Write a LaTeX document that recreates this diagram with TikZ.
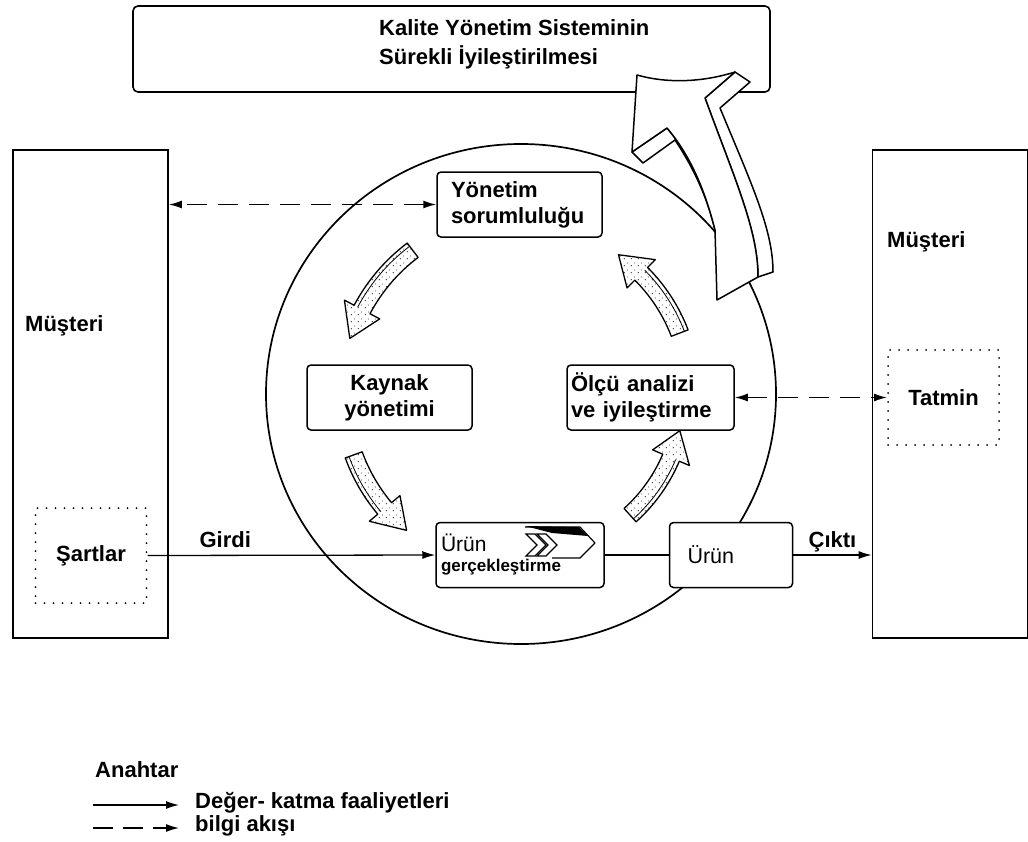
\documentclass[tikz,border=0pt]{standalone}
\usepackage{fontspec}
\setmainfont{Liberation Sans}
\usetikzlibrary{arrows.meta,positioning,calc,patterns}

\pgfdeclarepatternformonly{sparsedots}{\pgfqpoint{0pt}{0pt}}{\pgfqpoint{7pt}{7pt}}{\pgfqpoint{7pt}{7pt}}{%
  \pgfpathcircle{\pgfqpoint{1.5pt}{1.5pt}}{0.8pt}%
  \pgfpathcircle{\pgfqpoint{5pt}{4.5pt}}{0.6pt}%
  \pgfusepath{fill}}

% shaded block arrow on an arc round (cyc): radius, tail angle, tip angle
\newcommand{\cyclearrow}[3]{%
  \pgfmathsetmacro{\cyhead}{#3-10}%
  \draw[cycarrow] ($(cyc)+(-#2:#1+9)$) arc[start angle=-#2, end angle=-\cyhead, radius=#1+9]
    -- ($(cyc)+(-\cyhead:#1+20)$) -- ($(cyc)+(-#3:#1)$) -- ($(cyc)+(-\cyhead:#1-20)$)
    -- ($(cyc)+(-\cyhead:#1-9)$) arc[start angle=-\cyhead, end angle=-#2, radius=#1-9] -- cycle;
  \draw[line width=0.8pt] ($(cyc)+(-#2:#1+5)$) arc[start angle=-#2, end angle=-\cyhead, radius=#1+5];
}

\begin{document}
\begin{tikzpicture}[x=1pt, y=-1pt,
  lbl/.style={font=\fontsize{22}{26}\selectfont\bfseries, inner sep=0pt},
  cbox/.style={draw, line width=1.5pt, rounded corners=4pt, fill=white, lbl, minimum height=65pt},
  custbox/.style={draw, line width=1.7pt, fill=white, minimum width=155pt, minimum height=488pt},
  dotbox/.style={draw, lbl, line width=2pt, line cap=round, dash pattern=on 0pt off 9pt, minimum width=111pt, minimum height=95pt},
  flow/.style={-{Latex[length=13pt, width=8pt]}, line width=1.3pt},
  info/.style={{Latex[length=13pt, width=8pt]}-{Latex[length=13pt, width=8pt]}, line width=1.5pt, dash pattern=on 20pt off 11pt},
  cycarrow/.style={line width=1.3pt, line join=round, preaction={fill=white}, pattern=sparsedots, pattern color=black!75},
  hollow/.style={draw, line width=1.5pt, fill=white, line join=round}
]
\useasboundingbox (0,0) rectangle (1028,841);

% customers
\node[custbox] (mus1) at (90.5,394) {};
\node[custbox] (mus2) at (950,394) {};
\node[lbl, anchor=west] (mus1lbl) at (25,326) {Müşteri};
\node[lbl, anchor=west] (mus2lbl) at (887,242) {Müşteri};
\node[dotbox] (sartlar) at (91,555.5) {Şartlar};
\node[dotbox] (tatmin) at (943.5,397.5) {Tatmin};

% process circle
\coordinate (cyc) at (521,394);
\draw[line width=1.7pt] (cyc) ellipse[x radius=255, y radius=250];

% improvement box
\node[draw, line width=1.6pt, rounded corners=5pt, minimum width=637pt, minimum height=86pt] (kys) at (451.5,49) {};
\node[lbl, anchor=west, align=left, font=\fontsize{22}{29}\selectfont\bfseries] (kystext) at (379,44) {Kalite Yönetim Sisteminin\\Sürekli İyileştirilmesi};

% big hollow arrow
\filldraw[hollow] (632,152) -- (643,163) -- (675,140) .. controls (695,170) and (708,200) .. (715,230)
  .. controls (705,190) and (690,155) .. (667,128) -- cycle;
\filldraw[hollow] (735,72) -- (750,82) -- (720,108) .. controls (752,185) and (773,230) .. (773,272)
  -- (758,277) .. controls (758,230) and (735,180) .. (705,98) -- cycle;
\filldraw[hollow] (637,75) .. controls (665,83) and (700,83) .. (735,72) -- (705,98)
  .. controls (735,180) and (758,230) .. (758,277) -- (717,300) -- (715,230)
  .. controls (705,190) and (690,155) .. (667,128) -- (632,152) -- cycle;

% processes
\node[cbox, minimum width=165pt, text width=137pt, inner xsep=14pt, align=left] (yon) at (519.5,204.5) {Yönetim\\sorumluluğu};
\node[cbox, minimum width=165pt, align=center] (kaynak) at (389.5,397.5) {Kaynak\\yönetimi};
\node[cbox, minimum width=167pt, text width=159pt, inner xsep=4pt, align=left] (olcu) at (650.5,397.5) {Ölçü analizi\\ve iyileştirme};
\node[cbox, minimum width=166pt, text width=158pt, inner xsep=5pt, align=left] (gerc) at (520,555) {{\mdseries\fontsize{21}{24}\selectfont Ürün}\\[-6pt]{\fontsize{17}{18}\selectfont gerçekleştirme}};
\node[cbox, right=64pt of gerc, minimum width=123pt, text width=87pt, inner xsep=18pt, align=left, font=\fontsize{21.5}{26}\selectfont] (urun) {Ürün};

% process icon
\fill (525,526) -- (579,527) -- (588,536) -- (552,533) -- cycle;
\draw[line width=1.2pt, line join=round] (525,527) -- (580,527) -- (595,543) -- (580,558) -- (552,558);
\draw[line width=1.2pt, fill=white] (526,534) -- (535,534) -- (546,545) -- (535,556) -- (526,556) -- (537,545) -- cycle;
\draw[line width=1.2pt, fill=white] (537,534) -- (546,534) -- (557,545) -- (546,556) -- (537,556) -- (548,545) -- cycle;

% cycle
\cyclearrow{180}{127}{162}
\cyclearrow{178}{200}{230}
\cyclearrow{163}{312}{347}
\cyclearrow{170}{21}{55}

% flows
\draw[flow] (sartlar.east) -- node[lbl, above=7pt, pos=0.27] {Girdi} (gerc.west);
\draw[line width=1.3pt] (gerc.east) -- (urun.west);
\draw[flow] (urun.east) -- node[lbl, above=2pt] {Çıktı} (urun.east -| mus2.west);
\draw[info] (yon.west) -- (yon.west -| mus1.east);
\draw[info] (olcu.east) -- (tatmin.west);

% key
\node[lbl, anchor=west] (anahtar) at (95,770) {Anahtar};
\node[lbl, anchor=west] (deger) at (195,803) {Değer- katma faaliyetleri};
\node[lbl, anchor=west] (bilgi) at (195,826) {bilgi akışı};
\coordinate (key1) at (93,805);
\coordinate (key2) at (93,828);
\draw[flow, shorten >=16pt] (key1) -- (key1 -| deger.west);
\draw[flow, dash pattern=on 20pt off 10pt, shorten >=16pt] (key2) -- (key2 -| bilgi.west);
\end{tikzpicture}
\end{document}
